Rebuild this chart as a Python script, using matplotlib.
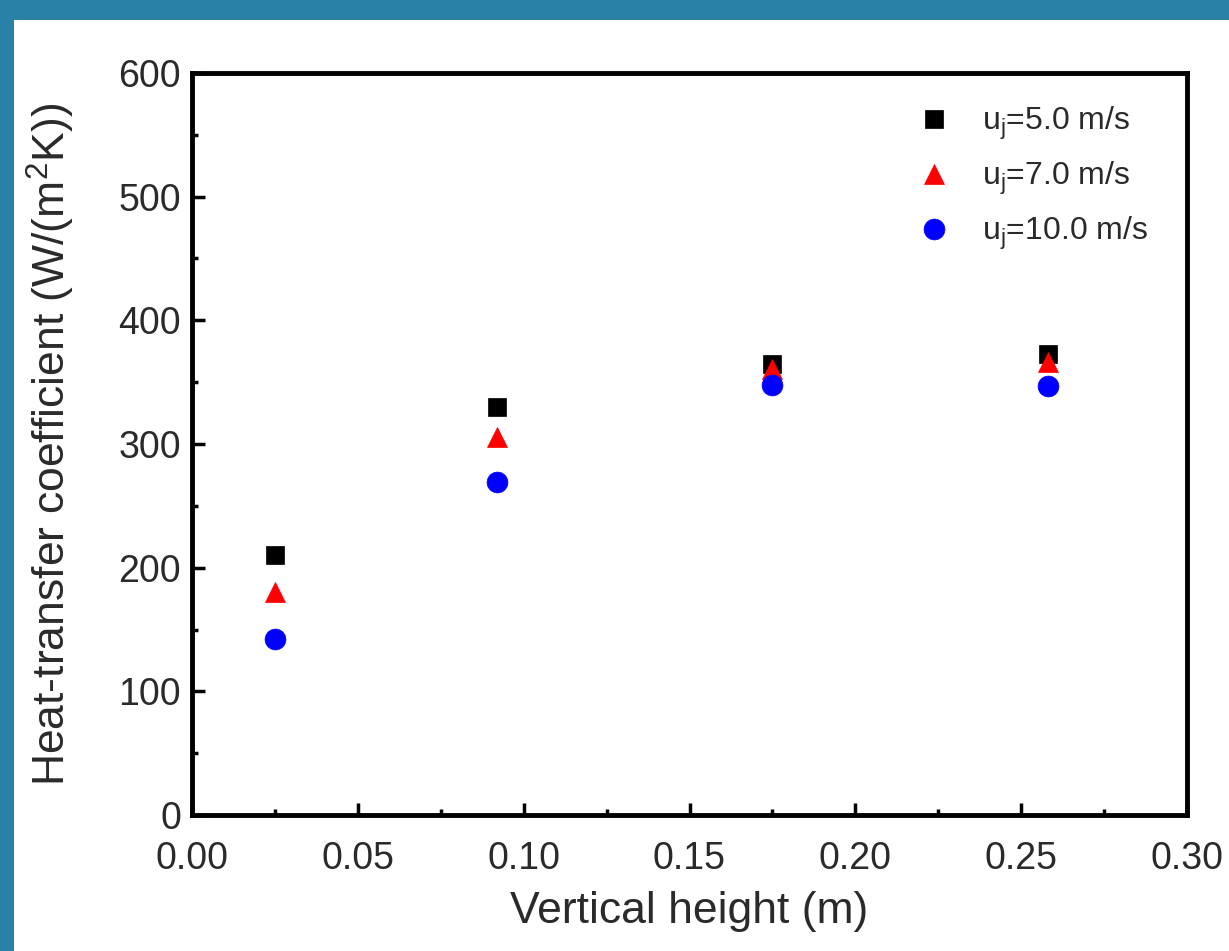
import matplotlib
matplotlib.use("Agg")
import matplotlib.pyplot as plt
from matplotlib.patches import Rectangle
from matplotlib.ticker import MultipleLocator

# Data
heights = [0.025, 0.092, 0.175, 0.258]
h_u5 = [210, 330, 365, 373]
h_u7 = [180, 306, 361, 366]
h_u10 = [142, 269, 348, 347]
labels = ["u$_\\mathregular{j}$=5.0 m/s", "u$_\\mathregular{j}$=7.0 m/s", "u$_\\mathregular{j}$=10.0 m/s"]
xticks = [0.00, 0.05, 0.10, 0.15, 0.20, 0.25, 0.30]
yticks = [0, 100, 200, 300, 400, 500, 600]

plt.rcParams['font.family'] = ['Liberation Sans', 'DejaVu Sans']
plt.rcParams['mathtext.fontset'] = 'custom'
plt.rcParams['mathtext.rm'] = 'Liberation Sans'
plt.rcParams['mathtext.it'] = 'Liberation Sans'

W, H = 1229, 951
fig = plt.figure(figsize=(W / 100, H / 100), dpi=100)
fig.patch.set_facecolor('white')

# teal frame (cropped border of the original picture)
teal = '#2a81a7'
fig.patches.append(Rectangle((0, 1 - 20 / H), 1, 20 / H, transform=fig.transFigure,
                             facecolor=teal, edgecolor='none', zorder=0))
fig.patches.append(Rectangle((0, 0), 14 / W, 1, transform=fig.transFigure,
                             facecolor=teal, edgecolor='none', zorder=0))

ax = fig.add_axes([192 / W, (H - 815) / H, (1187 - 192) / W, (815 - 73) / H])

ax.plot(heights, h_u5, linestyle='none', marker='s', color='black', ms=13, mew=0.5, label=labels[0])
ax.plot(heights, h_u7, linestyle='none', marker='^', color='red', ms=15, mew=0.5, label=labels[1])
ax.plot(heights, h_u10, linestyle='none', marker='o', color='blue', ms=15, mew=0.5, label=labels[2])

ax.set_xlim(0, 0.30)
ax.set_ylim(0, 600)
ax.set_xticks(xticks)
ax.set_xticklabels([f"{v:.2f}" for v in xticks])
ax.set_yticks(yticks)
ax.set_yticklabels([str(v) for v in yticks])
ax.xaxis.set_minor_locator(MultipleLocator(0.025))
ax.yaxis.set_minor_locator(MultipleLocator(50))

for s in ax.spines.values():
    s.set_linewidth(3.5)

txtc = '#2a2a2a'
ax.tick_params(which='major', direction='in', length=9, width=2.5, labelsize=27,
               labelcolor=txtc)
ax.tick_params(which='minor', direction='in', length=4.5, width=2.5)
ax.tick_params(axis='x', which='major', pad=19)
ax.tick_params(axis='y', which='major', pad=8)

ax.set_xlabel('Vertical height (m)', fontsize=32, color=txtc, labelpad=10)
ax.set_ylabel('Heat-transfer coefficient (W/(m$^\\mathregular{2}$K))', fontsize=32, color=txtc, labelpad=30)

leg = ax.legend(loc='upper left', bbox_to_anchor=(0.73, 0.957), frameon=False,
                fontsize=23, handlelength=1.0, handletextpad=1.0, labelspacing=0.56,
                borderpad=0, borderaxespad=0, numpoints=1)
for t in leg.get_texts():
    t.set_color(txtc)

fig.savefig('out.png', dpi=100, facecolor='white')
